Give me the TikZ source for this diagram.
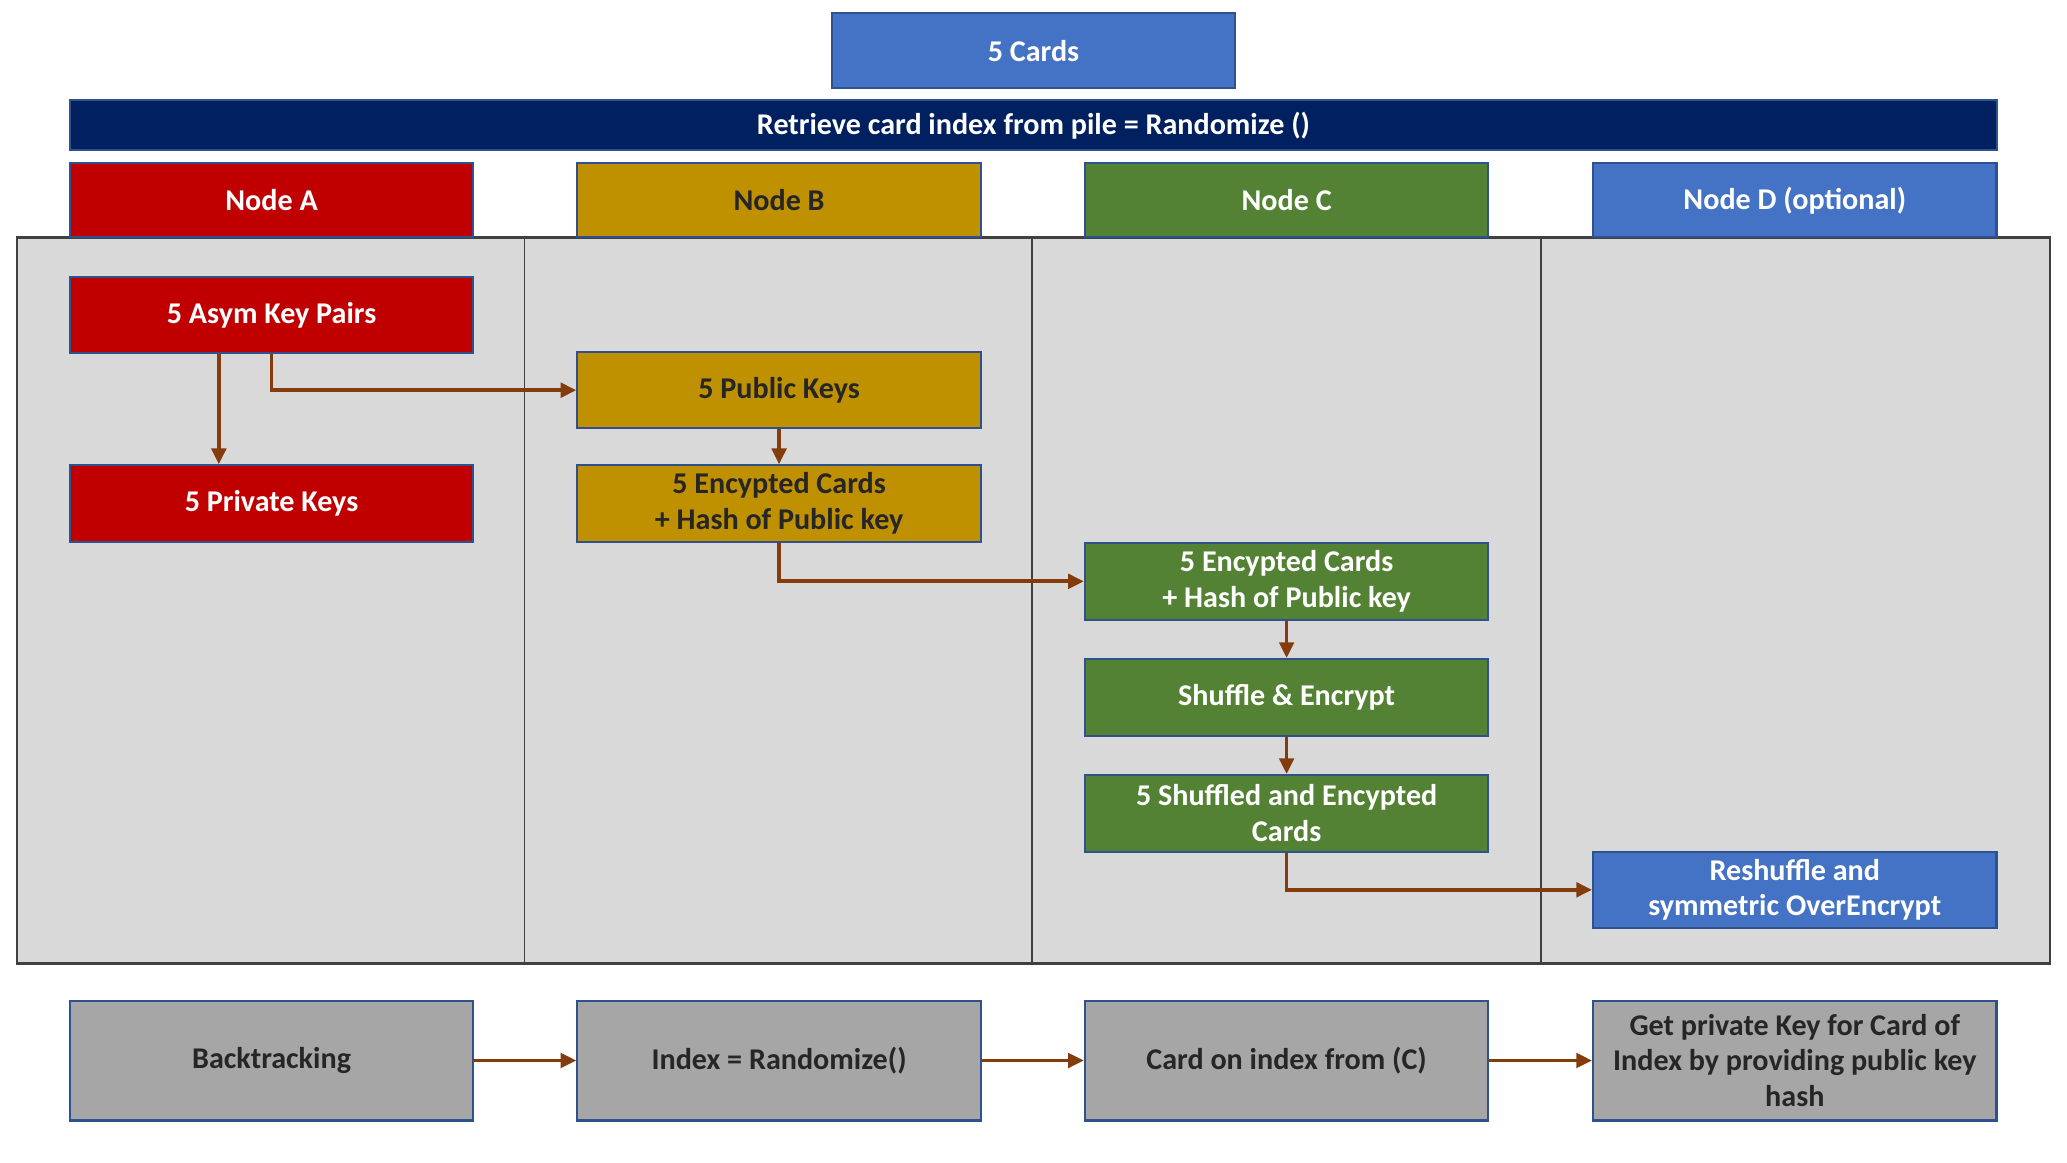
\documentclass[tikz,border=0pt]{standalone}
\usepackage{fontspec}
\setmainfont{Carlito}
\usepackage{tikz}
\usetikzlibrary{
    arrows.meta,
    positioning,
    calc
}
\usepackage{xcolor}
\definecolor{cardblue}{RGB}{68,114,196}
\definecolor{edgeblue}{RGB}{47,82,143}
\definecolor{navy}{RGB}{0,32,96}
\definecolor{nodered}{RGB}{192,0,0}
\definecolor{nodegold}{RGB}{191,144,0}
\definecolor{nodegreen}{RGB}{84,130,53}
\definecolor{lanegray}{RGB}{217,217,217}
\definecolor{stepgray}{RGB}{166,166,166}
\definecolor{darktext}{RGB}{38,38,38}
\definecolor{arrowbrown}{RGB}{132,60,12}

\begin{document}
\begin{tikzpicture}[
    x=1cm, y=1cm,
    box/.style={rectangle, draw=edgeblue, line width=0.9pt, minimum width=6.12cm, minimum height=1.16cm, font=\fontsize{13}{15.5}\selectfont\bfseries, align=center, inner sep=1pt},
    lighttext/.style={box, text=white},
    darkbox/.style={box, text=darktext},
    lane/.style={draw=black!75, line width=1.1pt, fill=lanegray},
    arrow/.style={-{Triangle[length=2.4mm, width=2.2mm]}, arrowbrown, line width=1.6pt}
]
\useasboundingbox (0,0) rectangle (31.36,17.64);

% === TITLE ===
\node[lighttext, fill=cardblue, minimum height=1.14cm] (cards) at (15.68, 16.87) {5 Cards};
\node[lighttext, fill=navy, minimum width=29.24cm, minimum height=0.76cm] (pile) at (15.68, 15.74) {Retrieve card index from pile = Randomize ()};

% === SWIMLANES ===
\draw[lane] (0.26, 3.02) rectangle (31.10, 14.04);
\draw[black!75, line width=0.7pt] (7.96, 3.02) -- (7.96, 14.04);
\draw[black!75, line width=0.7pt] (15.66, 3.02) -- (15.66, 14.04);
\draw[black!75, line width=0.7pt] (23.38, 3.02) -- (23.38, 14.04);

% Lane headers
\node[lighttext, fill=nodered, minimum height=1.12cm] (nodea) at (4.12, 14.6) {Node A};
\node[darkbox, fill=nodegold, minimum height=1.12cm] (nodeb) at (11.82, 14.6) {Node B};
\node[lighttext, fill=nodegreen, minimum height=1.12cm] (nodec) at (19.52, 14.6) {Node C};
\node[lighttext, fill=cardblue, minimum height=1.12cm] (noded) at (27.23, 14.6) {Node D (optional)};

% === NODE A ===
\node[lighttext, fill=nodered] (asym) at (4.12, 12.86) {5 Asym Key Pairs};
\node[lighttext, fill=nodered] (private) at (4.12, 10.0) {5 Private Keys};

% === NODE B ===
\node[darkbox, fill=nodegold] (pubkeys) at (11.82, 11.72) {5 Public Keys};
\node[darkbox, fill=nodegold] (encb) at (11.82, 10.0) {5 Encypted Cards\\+ Hash of Public key};

% === NODE C ===
\node[lighttext, fill=nodegreen] (encc) at (19.52, 8.82) {5 Encypted Cards\\+ Hash of Public key};
\node[lighttext, fill=nodegreen] (shuffle) at (19.52, 7.06) {Shuffle \& Encrypt};
\node[lighttext, fill=nodegreen] (shuffled) at (19.52, 5.3) {5 Shuffled and Encypted\\Cards};

% === NODE D ===
\node[lighttext, fill=cardblue] (reshuffle) at (27.23, 4.14) {Reshuffle and\\symmetric OverEncrypt};

% Connections
\draw[arrow] ([xshift=-0.8cm]asym.south) -- ([xshift=-0.8cm]private.north);
\draw[arrow] (asym.south) |- (pubkeys.west);
\draw[arrow] (pubkeys) -- (encb);
\draw[arrow] (encb.south) |- (encc.west);
\draw[arrow] (encc) -- (shuffle);
\draw[arrow] (shuffle) -- (shuffled);
\draw[arrow] (shuffled.south) |- (reshuffle.west);

% === BACKTRACKING (bottom) ===
\node[darkbox, fill=stepgray, minimum height=1.82cm] (back) at (4.12, 1.55) {Backtracking};
\node[darkbox, fill=stepgray, minimum height=1.82cm] (index) at (11.82, 1.55) {Index = Randomize()};
\node[darkbox, fill=stepgray, minimum height=1.82cm] (cardidx) at (19.52, 1.55) {Card on index from (C)};
\node[darkbox, fill=stepgray, minimum height=1.82cm] (getkey) at (27.23, 1.55) {Get private Key for Card of\\Index by providing public key\\hash};

\draw[arrow] (back) -- (index);
\draw[arrow] (index) -- (cardidx);
\draw[arrow] (cardidx) -- (getkey);

\end{tikzpicture}
\end{document}
